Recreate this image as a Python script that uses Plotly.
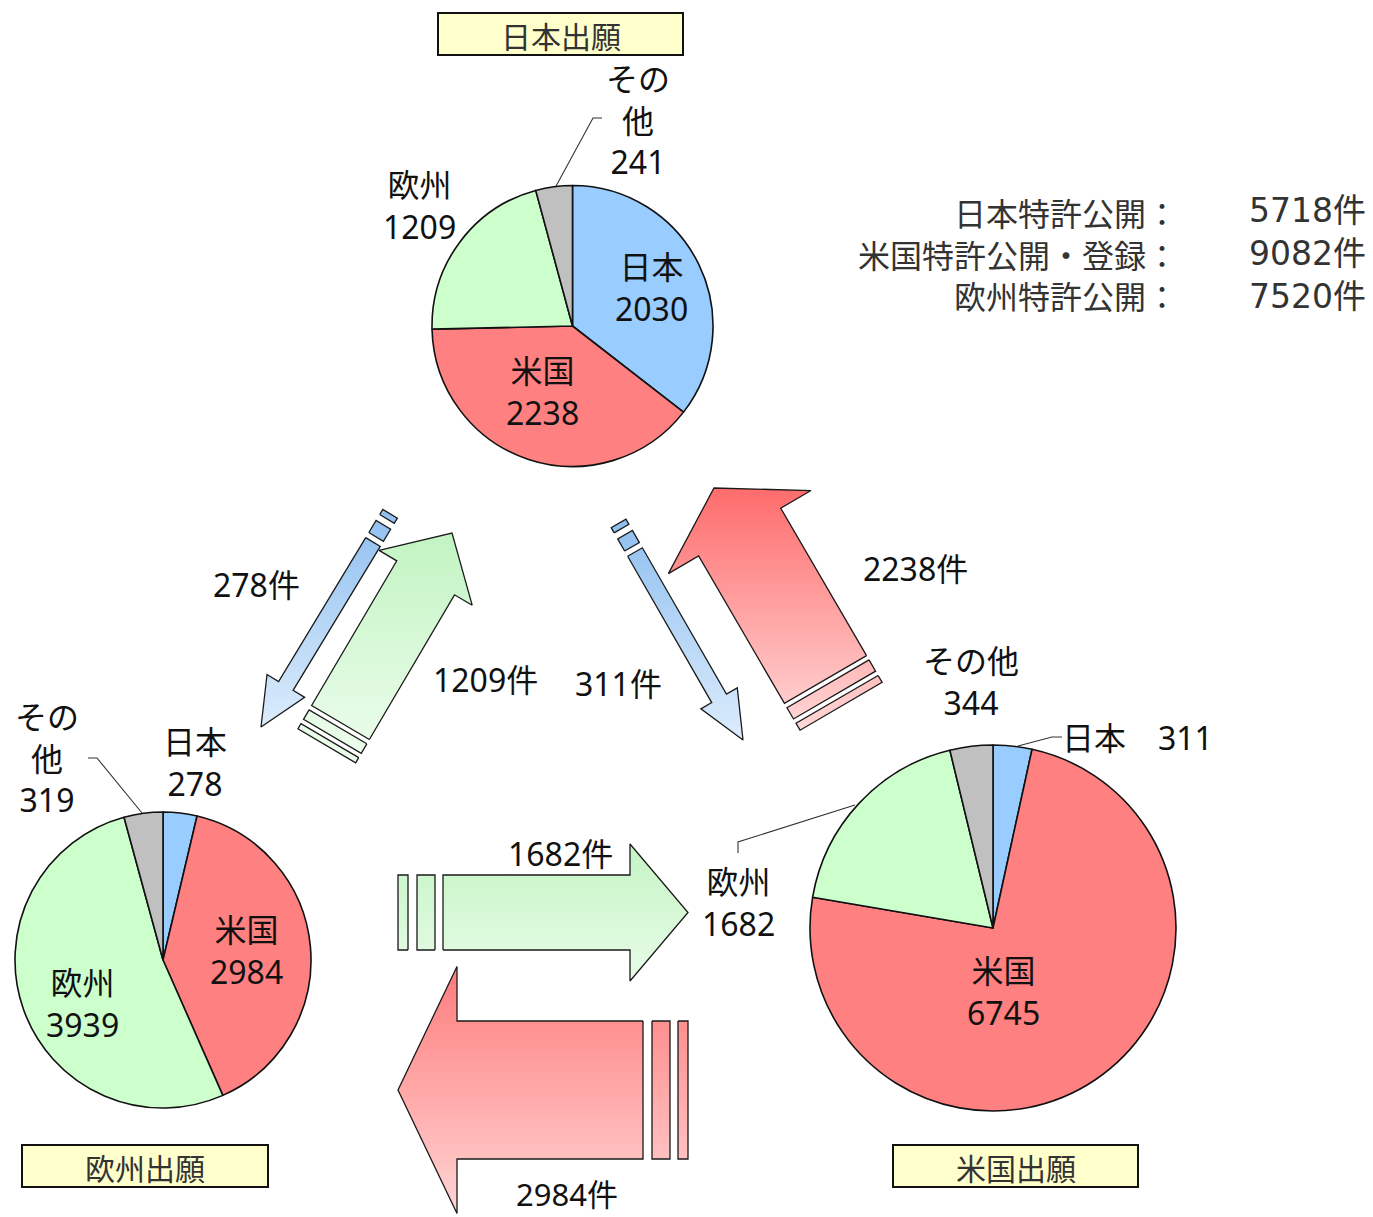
import numpy as np
import plotly.graph_objects as go

W, H = 1373, 1217

# ---- data: applications by applicant region, per filing office ----
regions = ["日本", "米国", "欧州", "その他"]
jp_office = [2030, 2238, 1209, 241]   # 日本出願
us_office = [311, 6745, 1682, 344]    # 米国出願
ep_office = [278, 2984, 3939, 319]    # 欧州出願
office_titles = ["日本出願", "米国出願", "欧州出願"]
summary_labels = ["日本特許公開", "米国特許公開・登録", "欧州特許公開"]
summary_counts = [sum(jp_office), sum(us_office), sum(ep_office)]

# ---- styling ----
slice_colors = ["#99CCFF", "#FF8080", "#CCFFCC", "#C0C0C0"]
LABEL_FONT = "Noto Sans, Noto Sans CJK JP, sans-serif"
CJK_FONT = "Noto Sans CJK JP, sans-serif"


def Y(py):
    """pixel row (top-down) -> axis value (bottom-up)"""
    return H - py


def pie_domain(cx, cy, r):
    return dict(x=[(cx - r) / W, (cx + r) / W],
                y=[1 - (cy + r) / H, 1 - (cy - r) / H])


fig = go.Figure()

# ---- pies ----
pie_layout = [
    (jp_office, (572.5, 326, 140.5)),
    (ep_office, (163, 960, 148)),
    (us_office, (993, 928, 183)),
]
for vals, (cx, cy, r) in pie_layout:
    fig.add_trace(go.Pie(
        values=vals, labels=regions, sort=False, direction="clockwise",
        rotation=0, textinfo="none", hoverinfo="label+value",
        marker=dict(colors=slice_colors, line=dict(color="#111", width=1.6)),
        domain=pie_domain(cx, cy, r), showlegend=False,
    ))


# ---- flow arrows ----
def arrow_polys(tail, tip, sw, hw, hl, stripes):
    T = np.array(tail, float)
    P = np.array(tip, float)
    d = P - T
    L = np.hypot(*d)
    u = d / L
    p = np.array([-u[1], u[0]])
    base = T + u * (L - hl)
    body = [T + p * sw / 2, base + p * sw / 2, base + p * hw / 2, P,
            base - p * hw / 2, base - p * sw / 2, T - p * sw / 2]
    polys = [body]
    off = 0.0
    for gap, length in stripes:
        a = T - u * (off + gap)
        b = T - u * (off + gap + length)
        polys.append([a + p * sw / 2, b + p * sw / 2, b - p * sw / 2, a - p * sw / 2])
        off += gap + length
    return polys


arrow_specs = [
    # tail, tip, shaft w, head w, head len, stripes, (light, dark)
    dict(tail=(373, 542), tip=(261, 727), sw=17, hw=44, hl=48,
         stripes=[(6, 14), (7, 6)], colors=("#dcecfc", "#8fbff0")),
    dict(tail=(635, 552), tip=(743, 740), sw=17, hw=42, hl=48,
         stripes=[(6, 14), (7, 6)], colors=("#dcecfc", "#8fbff0")),
    dict(tail=(340.5, 722.5), tip=(452, 533), sw=67, hw=108, hl=52,
         stripes=[(5, 11), (5, 6)], colors=("#eefdee", "#c2f4c2")),
    dict(tail=(825.5, 679.5), tip=(714, 488), sw=95, hw=165, hl=51,
         stripes=[(5, 13), (5, 8)], colors=("#ffd8d8", "#ff6c6c")),
    dict(tail=(443, 912.5), tip=(688, 912.5), sw=75, hw=137, hl=58,
         stripes=[(8, 18), (9, 10)], colors=("#e8fce8", "#c4f4c4")),
    dict(tail=(643, 1090), tip=(398, 1090), sw=138, hw=247, hl=59,
         stripes=[(9, 18), (8, 10)], colors=("#ffd4d4", "#ff7c7c")),
]

for spec in arrow_specs:
    xs, ys = [], []
    for poly in arrow_polys(spec["tail"], spec["tip"], spec["sw"], spec["hw"],
                            spec["hl"], spec["stripes"]):
        pts = poly + [poly[0]]
        xs += [pt[0] for pt in pts] + [None]
        ys += [Y(pt[1]) for pt in pts] + [None]
    yvals = [v for v in ys if v is not None]
    light, dark = spec["colors"]
    fig.add_trace(go.Scatter(
        x=xs, y=ys, mode="lines", fill="toself",
        fillgradient=dict(type="vertical", colorscale=[[0, light], [1, dark]],
                          start=min(yvals), stop=max(yvals)),
        line=dict(color="#1a1a1a", width=1.3),
        hoverinfo="skip", showlegend=False,
    ))

# ---- leader lines for outside slice labels ----
leaders = [
    [(602, 118), (593, 118), (555, 188)],
    [(88, 758), (97, 758), (142, 813)],
    [(738, 853), (738, 842), (855, 805)],
    [(1062, 737), (1052, 737), (1018, 746)],
]
for pts in leaders:
    fig.add_trace(go.Scatter(
        x=[p[0] for p in pts], y=[Y(p[1]) for p in pts], mode="lines",
        line=dict(color="#333", width=1.1), hoverinfo="skip", showlegend=False,
    ))

annotations = []


def label(x, y, text, size=32, color="#111", family=LABEL_FONT,
          xanchor="center", align="center"):
    annotations.append(dict(
        x=x, y=Y(y), xref="x", yref="y", text=text, showarrow=False,
        xanchor=xanchor, yanchor="middle", align=align,
        font=dict(size=size, color=color, family=family),
    ))


JP, US, EU, OT = range(4)

# slice labels: 日本出願
label(651, 287, f"{regions[JP]}<br>{jp_office[JP]}")
label(542, 391, f"{regions[US]}<br>{jp_office[US]}")
label(419, 205, f"{regions[EU]}<br>{jp_office[EU]}")
label(638, 120, f"その<br>他<br>{jp_office[OT]}")
# slice labels: 欧州出願
label(195, 762, f"{regions[JP]}<br>{ep_office[JP]}")
label(246, 950, f"{regions[US]}<br>{ep_office[US]}")
label(82, 1003, f"{regions[EU]}<br>{ep_office[EU]}")
label(47, 758, f"その<br>他<br>{ep_office[OT]}")
# slice labels: 米国出願
label(1137, 737, f"{regions[JP]}　{us_office[JP]}")
label(1003, 991, f"{regions[US]}<br>{us_office[US]}")
label(738, 902, f"{regions[EU]}<br>{us_office[EU]}")
label(971, 681, f"{regions[OT]}<br>{us_office[OT]}")

# flow labels
label(256, 584, f"{ep_office[JP]}件")
label(485, 679, f"{jp_office[EU]}件")
label(618, 683, f"{us_office[JP]}件")
label(915, 568, f"{jp_office[US]}件")
label(560, 853, f"{us_office[EU]}件")
label(567, 1194, f"{ep_office[US]}件", size=31)

# summary block (two right-aligned columns)
label(1180, 253, "<br>".join(f"{n}：" for n in summary_labels),
      size=32, color="#333", family=CJK_FONT, xanchor="right", align="right")
label(1368, 253, "<br>".join(f"{c}件" for c in summary_counts),
      size=33, color="#333", family="DejaVu Sans, Noto Sans CJK JP, sans-serif",
      xanchor="right", align="right")

# office title boxes
shapes = []
title_boxes = [(438, 13, 683, 55), (893, 1145, 1138, 1187), (22, 1145, 268, 1187)]
for title, (x0, y0, x1, y1) in zip(office_titles, title_boxes):
    shapes.append(dict(type="rect", xref="x", yref="y", x0=x0, x1=x1, y0=Y(y1), y1=Y(y0),
                       fillcolor="#FFFFCC", line=dict(color="#111", width=2), layer="below"))
    label((x0 + x1) / 2, (y0 + y1) / 2 + 1, title, size=30, color="#333", family=CJK_FONT)

fig.update_layout(
    width=W, height=H,
    margin=dict(l=0, r=0, t=0, b=0),
    paper_bgcolor="white", plot_bgcolor="white",
    showlegend=False,
    xaxis=dict(range=[0, W], visible=False, fixedrange=True, domain=[0, 1]),
    yaxis=dict(range=[0, H], visible=False, fixedrange=True, domain=[0, 1]),
    annotations=annotations,
    shapes=shapes,
)

fig.write_html("out.html")
